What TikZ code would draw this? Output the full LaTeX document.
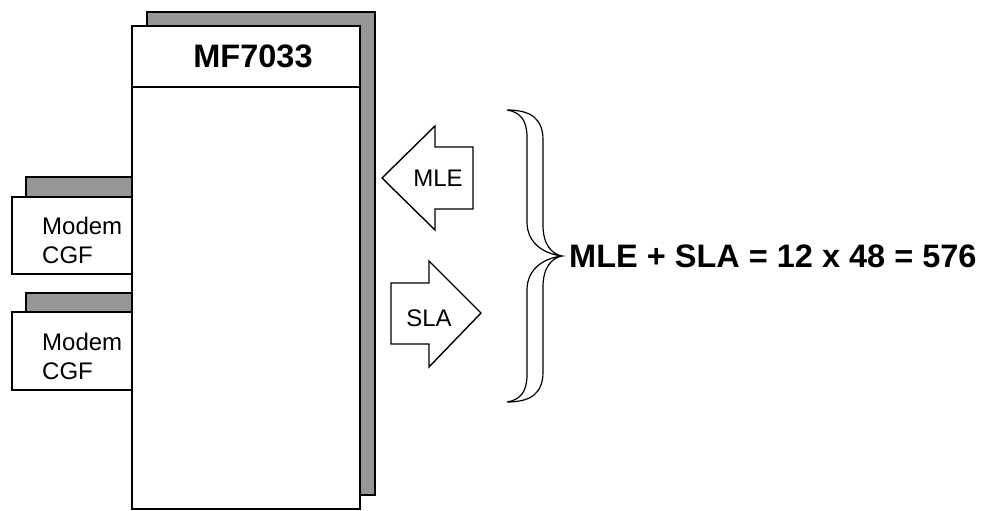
\documentclass[tikz,border=0pt]{standalone}
\usepackage{fontspec}
\setmainfont{Liberation Sans}
\usepackage{tikz}
\usetikzlibrary{positioning}
\usepackage{xcolor}
\definecolor{shadowgray}{RGB}{150,150,150}

\begin{document}
\begin{tikzpicture}[
    x=1pt, y=-1pt,
    box/.style={rectangle, draw, line width=1.5pt, fill=white, inner sep=0pt},
    shade/.style={rectangle, draw, line width=1.5pt, fill=shadowgray, inner sep=0pt},
    fat/.style={draw, line width=1.4pt, fill=white, line join=miter},
    small/.style={font=\fontsize{24}{29}\selectfont, inner sep=0pt},
    big/.style={font=\fontsize{32.5}{39}\selectfont\bfseries, inner sep=0pt}
]
    \useasboundingbox (0,0) rectangle (997,511);

    % The modems
    \node[shade, minimum width=106pt, minimum height=33pt] (cgfashadow) at (79,193.5) {};
    \node[box, minimum width=120pt, minimum height=77pt] (cgfa) at (72,235.5) {};
    \node[small, anchor=west, align=left] (cgfatext) at (42,240) {Modem\\CGF};
    \node[shade, minimum width=106pt, minimum height=33pt] (cgfbshadow) at (79,309.5) {};
    \node[box, minimum width=120pt, minimum height=78pt] (cgfb) at (72,351) {};
    \node[small, anchor=west, align=left] (cgfbtext) at (42,356) {Modem\\CGF};

    % The MF7033 rack
    \node[shade, minimum width=228pt, minimum height=483pt] (mfshadow) at (261,253.5) {};
    \node[box, minimum width=228pt, minimum height=483pt] (mf) at (246,267.5) {};
    \node[box, minimum width=228pt, minimum height=61pt, big] (mfhead) at (246,56.5) {\hspace*{14pt}MF7033};

    % Arrows
    \draw[fat] (382,178) -- (435,126) -- (435,147) -- (473,147) -- (473,209) -- (435,209) -- (435,230) -- cycle;
    \node[small] (mle) at (438,178) {MLE};
    \draw[fat] (481,313) -- (429,261) -- (429,283) -- (391,283) -- (391,344) -- (429,344) -- (429,367) -- cycle;
    \node[small] (sla) at (429,318) {SLA};

    % Brace
    \draw[fat, line width=1.2pt] (507,110) .. controls (530,110) and (543,118) .. (543,140) -- (543,225)
        .. controls (543,245) and (552,254) .. (562,256)
        .. controls (552,258) and (543,267) .. (543,287) -- (543,372)
        .. controls (543,394) and (530,402) .. (507,402)
        .. controls (520,400) and (527,392) .. (527,375) -- (527,290)
        .. controls (527,268) and (545,258) .. (562,256)
        .. controls (545,254) and (527,244) .. (527,222) -- (527,137)
        .. controls (527,120) and (520,112) .. (507,110) -- cycle;
    \coordinate (tip) at (562,256);

    % Total
    \node[big, anchor=west, right=7pt of tip] (total) {MLE + SLA = 12 x 48 = 576};
\end{tikzpicture}
\end{document}
